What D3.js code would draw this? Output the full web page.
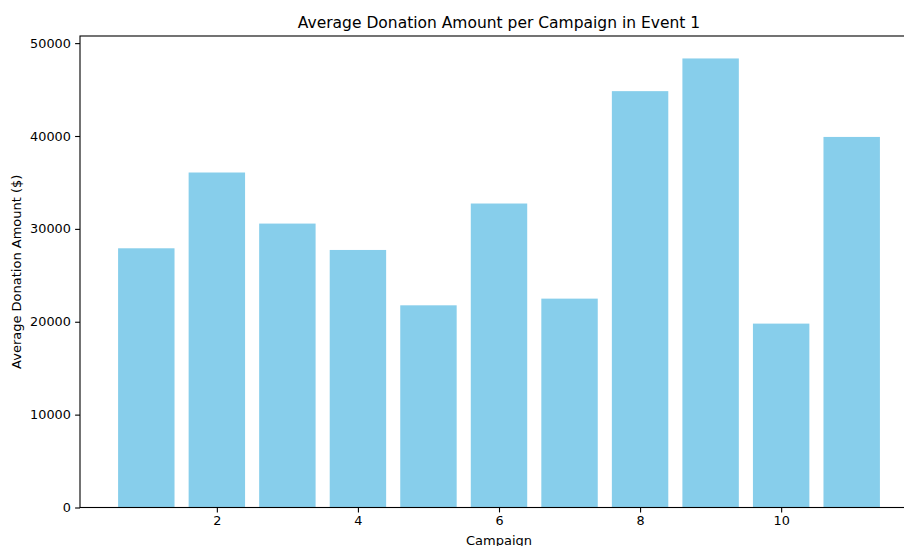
<!DOCTYPE html>
<html>
<head>
<meta charset="utf-8">
<script src="https://cdn.jsdelivr.net/npm/d3@7"></script>
<style>
  body { margin: 0; background: #fff; }
  text { font-family: "DejaVu Sans", sans-serif; fill: #000; }
</style>
</head>
<body>
<div id="donation_chart"></div>
<script>
// data
const campaigns = [1, 2, 3, 4, 5, 6, 7, 8, 9, 10, 11];
const avgDonation = [27910, 36070, 30570, 27730, 21770, 32730, 22490, 44830, 48350, 19800, 39900];
const xTicks = [2, 4, 6, 8, 10];
const yTicks = [0, 10000, 20000, 30000, 40000, 50000];

const W = 904, H = 546;
// axes box (right side runs past the picture edge, like the original crop)
const margin = { top: 36, left: 80, bottom: 507.5, right: 918 };

const svg = d3.select("#donation_chart")
  .append("svg")
  .attr("width", W)
  .attr("height", H);

// matplotlib-ish 5% margins around the bars
const barW = 0.8;
const xMin = d3.min(campaigns) - barW / 2, xMax = d3.max(campaigns) + barW / 2;
const pad = (xMax - xMin) * 0.05;

const x = d3.scaleLinear()
  .domain([xMin - pad, xMax + pad])
  .range([margin.left, margin.right]);

const y = d3.scaleLinear()
  .domain([0, d3.max(avgDonation) * 1.05])
  .range([margin.bottom, margin.top]);

// bars
svg.append("g")
  .selectAll("rect")
  .data(campaigns)
  .join("rect")
  .attr("x", (d) => x(d - barW / 2))
  .attr("width", (d) => x(d + barW / 2) - x(d - barW / 2))
  .attr("y", (d, i) => y(avgDonation[i]))
  .attr("height", (d, i) => y(0) - y(avgDonation[i]))
  .attr("fill", "#87ceeb");

// x axis
const xAxis = svg.append("g")
  .attr("transform", "translate(0," + margin.bottom + ")")
  .call(d3.axisBottom(x).tickValues(xTicks).tickSize(4.9).tickPadding(3.8));
xAxis.select(".domain").remove();
xAxis.selectAll("text").style("font-size", "12.8px").style("fill", "#000");
xAxis.selectAll("line").attr("stroke", "#000").attr("stroke-width", 1.1);

// y axis
const yAxis = svg.append("g")
  .attr("transform", "translate(" + margin.left + ",0)")
  .call(d3.axisLeft(y).tickValues(yTicks).tickFormat(d3.format("d")).tickSize(4.9).tickPadding(4.3));
yAxis.select(".domain").remove();
yAxis.selectAll("text").style("font-size", "12.8px").style("fill", "#000");
yAxis.selectAll("line").attr("stroke", "#000").attr("stroke-width", 1.1);

// spines
svg.append("rect")
  .attr("x", margin.left)
  .attr("y", margin.top)
  .attr("width", margin.right - margin.left)
  .attr("height", margin.bottom - margin.top)
  .attr("fill", "none")
  .attr("stroke", "#000")
  .attr("stroke-width", 1.1);

// title
svg.append("text")
  .attr("x", (margin.left + margin.right) / 2)
  .attr("y", 28)
  .attr("text-anchor", "middle")
  .style("font-size", "15.5px")
  .text("Average Donation Amount per Campaign in Event 1");

// axis labels (x label is clipped by the bottom edge, as in the original)
svg.append("text")
  .attr("x", (margin.left + margin.right) / 2)
  .attr("y", 545)
  .attr("text-anchor", "middle")
  .style("font-size", "13px")
  .text("Campaign");

svg.append("text")
  .attr("transform", "translate(21," + (margin.top + margin.bottom) / 2 + ") rotate(-90)")
  .attr("text-anchor", "middle")
  .style("font-size", "13px")
  .text("Average Donation Amount ($)");
</script>
</body>
</html>
